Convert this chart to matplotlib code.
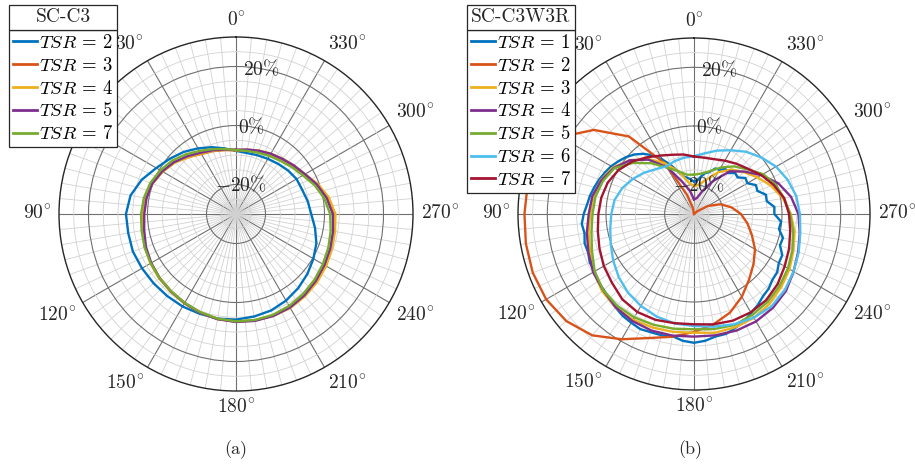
import numpy as np
import matplotlib
matplotlib.use('Agg')
import matplotlib.pyplot as plt
from matplotlib.patches import Rectangle

plt.rcParams['font.family'] = ['cmr10', 'DejaVu Serif']
plt.rcParams['mathtext.fontset'] = 'cm'
plt.rcParams['axes.unicode_minus'] = False
plt.rcParams['axes.formatter.use_mathtext'] = True

# ---------------- data ----------------
# angles in degrees, counter-clockwise from top
theta10 = np.arange(0, 360, 10)
theta5 = np.arange(0, 360, 5)

theta_ticks = list(range(0, 360, 30))
# 60 deg label is hidden behind the legend in the reference
theta_tick_labels = [r'$0^{\circ}$', r'$30^{\circ}$', '', r'$90^{\circ}$', r'$120^{\circ}$',
                     r'$150^{\circ}$', r'$180^{\circ}$', r'$210^{\circ}$', r'$240^{\circ}$',
                     r'$270^{\circ}$', r'$300^{\circ}$', r'$330^{\circ}$']
r_ticks = [-20, 0, 20]
r_tick_labels = [r'$-20\%$', r'$0\%$', r'$20\%$']

# (a) SC-C3
a_title = 'SC-C3'
a_labels = [r'$TSR\,=\,2$', r'$TSR\,=\,3$', r'$TSR\,=\,4$', r'$TSR\,=\,5$', r'$TSR\,=\,7$']
a_tsr2 = [-8.6, -7.4, -5.9, -4.3, -2.5, -0.8, 1.2, 4.0, 6.3, 7.3, 7.1, 7.2,
          6.8, 6.5, 6.3, 6.2, 6.0, 6.0, 5.8, 5.3, 4.8, 3.9, 2.8, 1.6,
          0.3, -1.0, -2.8, -4.5, -5.3, -6.1, -6.3, -7.0, -7.8, -8.4, -8.8, -9.0]
a_tsr3 = [-8.4, -8.0, -7.3, -6.5, -4.8, -2.8, -1.2, 0.2, 1.0, 1.5, 2.0, 2.8,
          3.3, 3.8, 4.2, 4.8, 5.5, 6.1, 6.5, 6.6, 6.7, 6.6, 6.2, 5.6,
          5.0, 4.3, 3.8, 3.3, 1.5, -0.8, -3.2, -4.6, -5.7, -6.6, -7.3, -8.0]
a_tsr4 = [-8.3, -7.9, -7.2, -6.4, -4.9, -2.9, -1.3, 0.1, 0.9, 1.4, 1.9, 2.9,
          3.5, 4.0, 4.4, 5.0, 5.6, 6.2, 6.5, 6.6, 6.8, 6.8, 6.4, 5.9,
          5.3, 4.6, 4.1, 3.7, 2.0, -0.4, -3.0, -4.4, -5.5, -6.4, -7.1, -7.9]
a_tsr5 = [-8.2, -7.8, -7.0, -6.0, -4.4, -2.6, -1.1, 0.2, 0.8, 1.1, 1.6, 2.5,
          3.2, 3.8, 4.3, 4.9, 5.6, 6.2, 6.6, 6.8, 6.8, 6.6, 6.0, 5.3,
          4.6, 4.0, 3.4, 2.8, 1.2, -0.8, -3.0, -4.4, -5.6, -6.4, -7.2, -7.8]
a_tsr7 = [-8.3, -7.6, -6.6, -5.3, -3.6, -1.8, -0.4, 0.9, 1.7, 2.2, 2.5, 3.0,
          3.4, 3.8, 4.2, 4.8, 5.4, 6.0, 6.4, 6.5, 6.4, 6.0, 5.4, 4.7,
          4.0, 3.3, 2.6, 1.9, 0.4, -1.6, -3.8, -5.3, -6.5, -7.3, -7.9, -8.3]

# (b) SC-C3W3R
b_title = 'SC-C3W3R'
b_labels = [r'$TSR\,=\,1$', r'$TSR\,=\,2$', r'$TSR\,=\,3$', r'$TSR\,=\,4$',
            r'$TSR\,=\,5$', r'$TSR\,=\,6$', r'$TSR\,=\,7$']
b_tsr1 = [-19.0, -18.2, -17.5, -16.8, -14.8, -11.8, -8.6, -5.6, -3.2, -1.3, 0.2, 1.4,
          2.6, 3.5, 4.4, 5.2, 6.0, 6.6, 7.6, 8.4, 7.9, 8.6, 8.4, 9.2,
          9.1, 10.0, 10.2, 11.0, 11.6, 12.4, 12.8, 13.3, 12.9, 12.8, 12.3, 13.4,
          13.9, 13.4, 12.4, 12.3, 11.3, 10.4, 8.9, 7.9, 6.6, 6.0, 4.9, 4.6,
          3.4, 3.2, 1.2, 1.4, -0.6, -0.2, -2.6, -2.5, -4.8, -4.6, -7.0, -6.7,
          -9.0, -8.6, -10.6, -10.2, -11.8, -11.3, -12.6, -12.9, -14.8, -15.6, -17.2, -18.6]
b_tsr2 = [-30.0, -28.0, -23.0, -10.0, 4.5, 14.6, 22.5, 26.6, 27.6, 27.8, 28.2, 28.5,
          28.2, 26.8, 24.0, 19.3, 15.0, 12.5, 10.2, 8.2, 5.8, 2.6, -0.8, -3.5,
          -6.0, -9.0, -11.5, -14.0, -17.0, -20.3, -24.5, -28.5, -30.0, -30.0, -30.0, -30.0]
b_tsr3 = [-20.5, -19.0, -14.5, -10.0, -5.5, -1.5, 1.8, 3.8, 4.8, 5.4, 6.5, 7.7,
          9.5, 10.9, 11.6, 11.6, 11.2, 10.8, 10.5, 11.1, 11.1, 10.9, 10.0, 8.8,
          7.6, 6.1, 4.8, 3.0, 0.8, -2.0, -5.0, -7.8, -10.2, -13.6, -17.5, -19.8]
b_tsr4 = [-25.0, -22.0, -18.3, -11.5, -5.8, -1.5, 1.5, 3.6, 5.2, 5.9, 7.1, 8.3,
          9.7, 10.4, 11.5, 12.1, 12.3, 12.1, 11.8, 12.0, 12.3, 12.3, 11.8, 10.9,
          9.2, 7.8, 6.6, 5.6, 3.6, 0.6, -3.5, -7.5, -11.0, -17.0, -21.8, -24.5]
b_tsr5 = [-16.6, -16.4, -14.5, -11.8, -7.4, -2.9, 1.3, 3.0, 4.1, 4.6, 5.5, 7.0,
          9.1, 10.4, 10.8, 10.7, 10.2, 9.7, 9.3, 9.8, 10.3, 9.7, 9.1, 8.1,
          7.0, 5.7, 4.3, 2.8, 1.2, -0.5, -2.8, -6.3, -8.8, -11.7, -14.5, -16.0]
b_tsr6 = [-10.3, -10.5, -10.8, -11.2, -10.0, -8.0, -6.0, -4.0, -2.5, -1.8, -1.0, 0.2,
          1.8, 3.5, 5.0, 6.2, 7.2, 7.9, 8.2, 9.0, 10.0, 10.8, 11.1, 10.4,
          9.2, 8.0, 6.8, 6.1, 5.4, 4.0, 2.3, 0.0, -2.3, -4.9, -7.0, -9.0]
b_tsr7 = [-10.4, -9.4, -8.5, -7.0, -4.8, -2.3, -0.2, 1.3, 2.1, 2.6, 3.3, 4.3,
          5.5, 6.5, 8.0, 8.6, 8.4, 7.8, 7.6, 8.2, 8.7, 8.7, 8.3, 7.2,
          5.7, 4.5, 3.3, 2.4, 1.2, -1.1, -3.5, -6.0, -7.6, -9.0, -10.1, -10.5]

colors = ['#0072BD', '#D95319', '#EDB120', '#7E2F8E', '#77AC30', '#4DBEEE', '#A2142F']

# ---------------- figure ----------------
W, H = 915, 466
fig = plt.figure(figsize=(W / 100, H / 100), dpi=100)

FS = 14
LEG_FS = 13.5
DARK = '#262626'
LABEL_OFF = 5.5  # points beyond the outer circle


def setup(ax):
    ax.set_theta_zero_location('N')
    ax.set_theta_direction(1)
    ax.set_ylim(-30, 30)
    ax.set_xticks(np.deg2rad(theta_ticks))
    ax.set_xticklabels([])
    minor_t = [d for d in range(0, 360, 5) if d % 30 != 0]
    ax.set_xticks(np.deg2rad(minor_t), minor=True)
    ax.set_yticks(r_ticks)
    ax.set_yticklabels([])
    minor_r = [v for v in np.arange(-30, 31, 5) if v not in r_ticks and abs(v) < 30]
    ax.set_yticks(minor_r, minor=True)
    ax.set_axisbelow(True)
    ax.grid(True, which='major', color='#707070', lw=0.8)
    ax.grid(True, which='minor', color='#d2d2d2', lw=0.6)
    ax.tick_params(which='both', length=0)
    ax.spines['polar'].set_color(DARK)
    ax.spines['polar'].set_linewidth(1.0)
    # angular labels, anchored just outside the outer circle
    for d, lab in zip(theta_ticks, theta_tick_labels):
        if not lab:
            continue
        s, c = np.sin(np.deg2rad(d)), np.cos(np.deg2rad(d))
        ha = 'center' if abs(s) < 0.2 else ('right' if s > 0 else 'left')
        va = 'center' if abs(c) < 0.3 else ('bottom' if c > 0 else 'top')
        ax.annotate(lab, xy=(np.deg2rad(d), 30), xycoords='data',
                    xytext=(-s * LABEL_OFF, c * LABEL_OFF), textcoords='offset points',
                    ha=ha, va=va, fontsize=FS, color=DARK, annotation_clip=False)
    for v, s in zip(r_ticks, r_tick_labels):
        ax.text(np.deg2rad(350), v, s, ha='center', va='center', fontsize=FS,
                color=DARK, zorder=5)


def draw(ax, thetas, series, cols, labels):
    for th, vals, c, lab in zip(thetas, series, cols, labels):
        t = np.deg2rad(np.append(th, th[0] + 360))
        r = np.append(vals, vals[0])
        ax.plot(t, r, color=c, lw=1.7, label=lab, zorder=3)


def legend_with_title(ax, x_px, top_px, title_h):
    leg = ax.legend(loc='upper left',
                    bbox_to_anchor=(x_px / W, 1 - (top_px + title_h) / H),
                    bbox_transform=fig.transFigure, fontsize=LEG_FS, frameon=True,
                    fancybox=False, edgecolor=DARK, framealpha=1,
                    borderpad=0.2, handlelength=1.3, handletextpad=0.1,
                    labelspacing=0.26, borderaxespad=0)
    leg.get_frame().set_linewidth(0.9)
    leg.set_zorder(10)
    for ln in leg.get_lines():
        ln.set_linewidth(2.0)
    return leg


ax1 = fig.add_axes([(236 - 177) / W, (H - 214 - 177) / H, 354 / W, 354 / H],
                   projection='polar')
setup(ax1)
draw(ax1, [theta10] * 5, [a_tsr2, a_tsr3, a_tsr4, a_tsr5, a_tsr7], colors[:5], a_labels)

ax2 = fig.add_axes([(694 - 176) / W, (H - 214 - 176) / H, 352 / W, 352 / H],
                   projection='polar')
setup(ax2)
draw(ax2, [theta5] + [theta10] * 6,
     [b_tsr1, b_tsr2, b_tsr3, b_tsr4, b_tsr5, b_tsr6, b_tsr7], colors, b_labels)

TITLE_H = 25
leg1 = legend_with_title(ax1, 9, 5, TITLE_H)
leg2 = legend_with_title(ax2, 467, 5, TITLE_H)

fig.canvas.draw()
for leg, title in [(leg1, a_title), (leg2, b_title)]:
    bb = leg.get_window_extent()
    x0, x1 = bb.x0 / W, bb.x1 / W
    y0 = bb.y1 / H
    h = TITLE_H / H
    fig.patches.append(Rectangle((x0, y0), x1 - x0, h, transform=fig.transFigure,
                                 facecolor='white', edgecolor=DARK, lw=0.9,
                                 zorder=20))
    fig.text((x0 + x1) / 2, y0 + h / 2, title, ha='center', va='center',
             fontsize=FS, color=DARK, zorder=21)

fig.text(236 / W, 1 - 450 / H, '(a)', ha='center', va='center', fontsize=13, color=DARK)
fig.text(690 / W, 1 - 450 / H, '(b)', ha='center', va='center', fontsize=13, color=DARK)

fig.savefig('out.png', dpi=100)
